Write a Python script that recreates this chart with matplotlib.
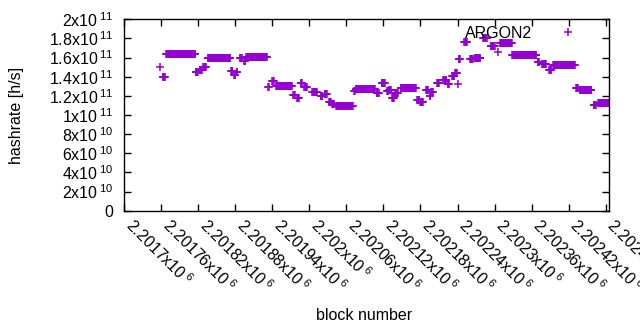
import numpy as np
import matplotlib
matplotlib.use("Agg")
import matplotlib.pyplot as plt
from matplotlib.ticker import FuncFormatter, MultipleLocator

plt.rcParams['font.family'] = ['Liberation Sans', 'DejaVu Sans']
plt.rcParams['mathtext.fontset'] = 'custom'
plt.rcParams['mathtext.rm'] = 'Liberation Sans'
plt.rcParams['mathtext.it'] = 'Liberation Sans:italic'
plt.rcParams['mathtext.bf'] = 'Liberation Sans:bold'

# runs of consecutive blocks sharing one hashrate estimate
# (first block, last block, hashrate in 1e9 h/s)
run_first = [2201758, 2201762, 2201768, 2201816, 2201822, 2201828, 2201835, 2201873,
             2201878, 2201882, 2201887, 2201894, 2201898, 2201933, 2201940, 2201946,
             2201974, 2201980, 2201986, 2201992, 2202005, 2202018, 2202025, 2202032,
             2202037, 2202043, 2202073, 2202075, 2202109, 2202117, 2202126, 2202129,
             2202134, 2202139, 2202148, 2202175, 2202180, 2202189, 2202195, 2202197,
             2202207, 2202217, 2202224, 2202231, 2202236, 2202240, 2202242, 2202251,
             2202261, 2202268, 2202282, 2202294, 2202305, 2202309, 2202329, 2202370,
             2202377, 2202389, 2202395, 2202432, 2202438, 2202461, 2202468]
run_last = [2201758, 2201766, 2201815, 2201819, 2201826, 2201832, 2201872, 2201875,
            2201880, 2201883, 2201890, 2201896, 2201931, 2201934, 2201942, 2201971,
            2201976, 2201983, 2201988, 2201996, 2202012, 2202021, 2202028, 2202035,
            2202040, 2202070, 2202074, 2202106, 2202112, 2202122, 2202128, 2202132,
            2202137, 2202143, 2202172, 2202178, 2202184, 2202192, 2202196, 2202200,
            2202210, 2202222, 2202226, 2202235, 2202239, 2202240, 2202244, 2202255,
            2202265, 2202277, 2202287, 2202300, 2202305, 2202328, 2202368, 2202372,
            2202383, 2202392, 2202430, 2202435, 2202457, 2202464, 2202486]
run_rate = [150.0, 139.4, 163.4, 145.2, 147.5, 150.2, 159.2, 146.3,
            141.5, 145.0, 160.0, 156.5, 160.3, 129.6, 135.5, 130.0,
            121.0, 118.1, 133.7, 129.6, 124.4, 119.9, 122.0, 113.9,
            111.5, 109.7, 125.4, 127.5, 122.7, 133.1, 125.4, 126.1,
            117.5, 122.7, 127.9, 115.7, 113.9, 126.1, 119.9, 124.4,
            133.1, 136.6, 132.0, 140.8, 143.6, 132.4, 158.2, 176.0,
            158.2, 159.2, 180.1, 172.1, 165.5, 174.9, 162.7, 155.7,
            153.0, 147.0, 151.9, 127.9, 125.8, 110.4, 112.5]

series_name = "ARGON2"
x_range = (2201700, 2202486)
x_tick_step = 60
y_range = (0, 2e11)
y_tick_step = 2e10


def sci_label(v, pos=None):
    # gnuplot style "1.8x10^11"
    if v == 0:
        return "0"
    exp = int(np.floor(np.log10(abs(v)) + 1e-9))
    mant = round(v / 10.0 ** exp, 6)
    return r"%gx10$\,^{%d}$" % (mant, exp)


# one point per block
blocks = np.concatenate([np.arange(a, b + 1) for a, b in zip(run_first, run_last)])
rates = np.concatenate([np.full(b - a + 1, r * 1e9) for a, b, r in zip(run_first, run_last, run_rate)])

fig = plt.figure(figsize=(6.4, 3.3), dpi=100)
ax = fig.add_axes([124.3 / 640, 1 - 210.7 / 330, 485 / 640, 191.4 / 330])

ax.plot(blocks, rates, linestyle='none', marker='+', ms=6, mew=1.1,
        color='#9400d3', label=series_name)

ax.set_xlim(*x_range)
ax.set_ylim(*y_range)
ax.xaxis.set_major_locator(MultipleLocator(x_tick_step))
ax.yaxis.set_major_locator(MultipleLocator(y_tick_step))
ax.xaxis.set_major_formatter(FuncFormatter(sci_label))
ax.yaxis.set_major_formatter(FuncFormatter(sci_label))

fs = 11.5
ax.tick_params(direction='in', top=True, right=True, length=5, width=1,
               labelsize=fs)
ax.tick_params(axis='y', pad=8)
ax.tick_params(axis='x', pad=11.5)
for lab in ax.get_xticklabels():
    lab.set_rotation(-45)
    lab.set_ha('left')
    lab.set_va('baseline')
    lab.set_rotation_mode('anchor')
for sp in ax.spines.values():
    sp.set_linewidth(1)

ax.set_xlabel("block number", fontsize=fs)
ax.set_ylabel("hashrate [h/s]", fontsize=fs)
ax.xaxis.set_label_coords(0.494, -0.51)
ax.yaxis.set_label_coords(-0.207, 0.5)

ax.legend(loc='upper right', bbox_to_anchor=(0.947, 0.965), frameon=False,
          markerfirst=False, numpoints=1, handlelength=2, handletextpad=1.2,
          borderpad=0, borderaxespad=0, fontsize=fs)

fig.savefig("out.png", dpi=100)
